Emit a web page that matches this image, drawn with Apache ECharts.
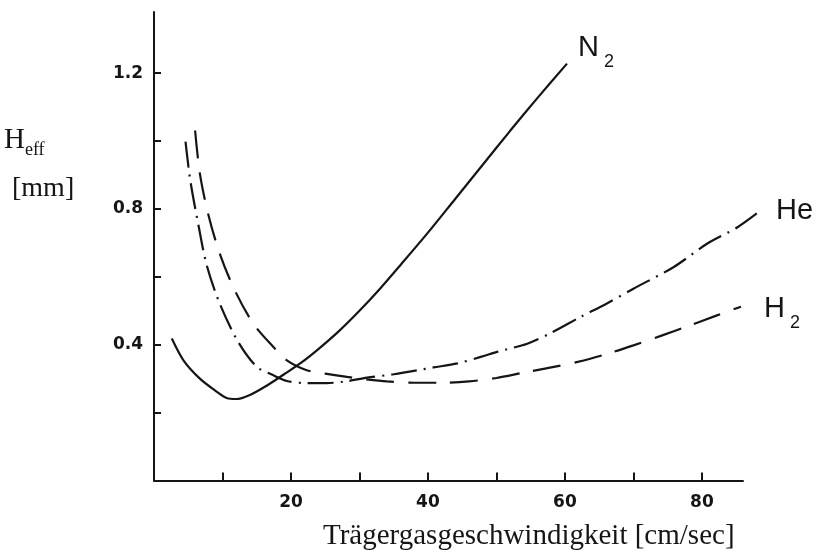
<!DOCTYPE html>
<html>
<head>
<meta charset="utf-8">
<script src="https://cdn.jsdelivr.net/npm/echarts@6/dist/echarts.min.js"></script>
<style>
  html, body { margin: 0; padding: 0; background: #fff; }
  #chart { width: 818px; height: 558px; }
</style>
</head>
<body>
<div id="chart"></div>
<script>
// Plate height vs. carrier gas velocity for three carrier gases
const velocityN2 = [2.6, 4.3, 6.7, 9.2, 10.6, 12.0, 14.0, 16.5, 19.0, 21.5, 24.0, 27.0, 30.0, 33.0, 36.0, 40.0, 44.0, 48.0, 52.0, 56.0, 60.3];
const heightN2   = [0.418, 0.354, 0.300, 0.261, 0.243, 0.240, 0.252, 0.280, 0.313, 0.347, 0.387, 0.440, 0.500, 0.565, 0.635, 0.730, 0.830, 0.930, 1.030, 1.127, 1.228];

const velocityHe = [4.6, 5.3, 6.5, 7.7, 9.6, 12.3, 15.0, 17.2, 19.4, 22.3, 25.2, 28.0, 31.1, 35.0, 40.8, 44.3, 47.7, 50.1, 54.5, 58.0, 62.3, 66.0, 70.0, 75.9, 80.8, 85.2, 88.5];
const heightHe   = [0.998, 0.884, 0.751, 0.634, 0.521, 0.408, 0.335, 0.312, 0.293, 0.287, 0.287, 0.292, 0.303, 0.313, 0.333, 0.345, 0.364, 0.379, 0.403, 0.435, 0.482, 0.520, 0.565, 0.629, 0.698, 0.746, 0.794];

const velocityH2 = [6.0, 6.7, 7.9, 9.6, 11.8, 14.5, 17.4, 19.4, 22.3, 25.0, 28.2, 31.0, 34.0, 38.0, 42.0, 46.0, 50.0, 54.0, 58.0, 62.0, 66.0, 70.0, 74.0, 78.0, 82.0, 85.7];
const heightH2   = [1.031, 0.904, 0.786, 0.668, 0.560, 0.462, 0.394, 0.354, 0.325, 0.315, 0.305, 0.298, 0.292, 0.288, 0.288, 0.292, 0.302, 0.318, 0.333, 0.350, 0.372, 0.398, 0.426, 0.455, 0.485, 0.512];

const xTickLabels = [20, 40, 60, 80];
const yTickLabels = [0.4, 0.8, 1.2];

const INK = '#151515';
const pairs = (xs, ys) => xs.map((x, i) => [x, ys[i]]);

// the drawn axis frame ends at AXIS_X_MAX; the curves may run a little past it
const AXIS_X_MAX = 86;
const CURVE_X_MAX = 89;
const Y_MAX = 1.38;
const PLOT_LEFT = 154;
const AXIS_RIGHT = 75;
const PX_PER_UNIT = (818 - PLOT_LEFT - AXIS_RIGHT) / AXIS_X_MAX;
const CURVE_RIGHT = 818 - PLOT_LEFT - PX_PER_UNIT * CURVE_X_MAX;

const chart = echarts.init(document.getElementById('chart'), null, { renderer: 'canvas' });

// gas name with an optional lowered subscript, placed at the end of its curve
const gasLabel = (main, sub, offset) => ({
  show: true,
  offset: offset,
  formatter: sub ? '{m|' + main + '}{s|' + sub + '}' : '{m|' + main + '}',
  rich: {
    m: { fontFamily: 'Liberation Sans', fontSize: 29, lineHeight: 29, color: INK, verticalAlign: 'bottom', padding: sub ? [0, 0, 9, 0] : 0 },
    s: { fontFamily: 'Liberation Sans', fontSize: 18, lineHeight: 18, color: INK, verticalAlign: 'bottom', padding: [0, 0, 0, 5] }
  }
});

const curve = (name, xs, ys, dash, label) => ({
  name: name,
  type: 'line',
  xAxisIndex: 1,
  yAxisIndex: 1,
  data: pairs(xs, ys),
  showSymbol: false,
  smooth: 0.3,
  clip: false,
  lineStyle: { color: INK, width: 2.2, type: dash },
  endLabel: label
});

const hiddenAxis = { show: false, splitLine: { show: false } };

chart.setOption({
  animation: false,
  backgroundColor: '#fff',
  grid: [
    { left: PLOT_LEFT, right: AXIS_RIGHT, top: 12, bottom: 77.5 },
    { left: PLOT_LEFT, right: CURVE_RIGHT, top: 12, bottom: 77.5 }
  ],
  xAxis: [
    {
      type: 'value',
      gridIndex: 0,
      min: 0,
      max: AXIS_X_MAX,
      interval: 10,
      splitLine: { show: false },
      axisLine: { lineStyle: { color: INK, width: 2 } },
      axisTick: { inside: true, length: 8, lineStyle: { color: INK, width: 2 } },
      axisLabel: {
        margin: 14,
        showMaxLabel: false,
        fontFamily: 'DejaVu Sans',
        fontWeight: 'bold',
        fontSize: 17,
        color: INK,
        formatter: v => xTickLabels.includes(Math.round(v)) ? String(Math.round(v)) : ''
      }
    },
    Object.assign({ type: 'value', gridIndex: 1, min: 0, max: CURVE_X_MAX }, hiddenAxis)
  ],
  yAxis: [
    {
      type: 'value',
      gridIndex: 0,
      min: 0,
      max: Y_MAX,
      interval: 0.2,
      splitLine: { show: false },
      axisLine: { lineStyle: { color: INK, width: 2 } },
      axisTick: { inside: true, length: 7, lineStyle: { color: INK, width: 2 } },
      axisLabel: {
        margin: 11,
        showMaxLabel: false,
        fontFamily: 'DejaVu Sans',
        fontWeight: 'bold',
        fontSize: 17,
        color: INK,
        padding: [6, 0, 0, 0],
        formatter: v => {
          const r = Math.round(v * 10) / 10;
          return yTickLabels.includes(r) ? r.toFixed(1) : '';
        }
      }
    },
    Object.assign({ type: 'value', gridIndex: 1, min: 0, max: Y_MAX }, hiddenAxis)
  ],
  series: [
    curve('N2', velocityN2, heightN2, 'solid', gasLabel('N', '2', [3, -7])),
    curve('He', velocityHe, heightHe, [26, 7, 2, 7], gasLabel('He', '', [8, 0])),
    curve('H2', velocityH2, heightH2, [28, 14], gasLabel('H', '2', [15, 11]))
  ],
  graphic: [
    {
      type: 'text',
      left: 4,
      top: 126,
      style: {
        text: '{h|H}{e|eff}',
        rich: {
          h: { fontFamily: 'Liberation Serif', fontSize: 29, lineHeight: 29, fill: INK, color: INK, verticalAlign: 'bottom', padding: [0, 0, 4, 0] },
          e: { fontFamily: 'Liberation Serif', fontSize: 18, lineHeight: 18, fill: INK, color: INK, verticalAlign: 'bottom' }
        }
      }
    },
    {
      type: 'text',
      left: 12,
      top: 175,
      style: { text: '[mm]', font: '28px "Liberation Serif"', fill: INK }
    },
    {
      type: 'text',
      left: 323,
      top: 522,
      style: { text: 'Trägergasgeschwindigkeit [cm/sec]', font: '29px "Liberation Serif"', fill: INK }
    }
  ]
});
</script>
</body>
</html>
